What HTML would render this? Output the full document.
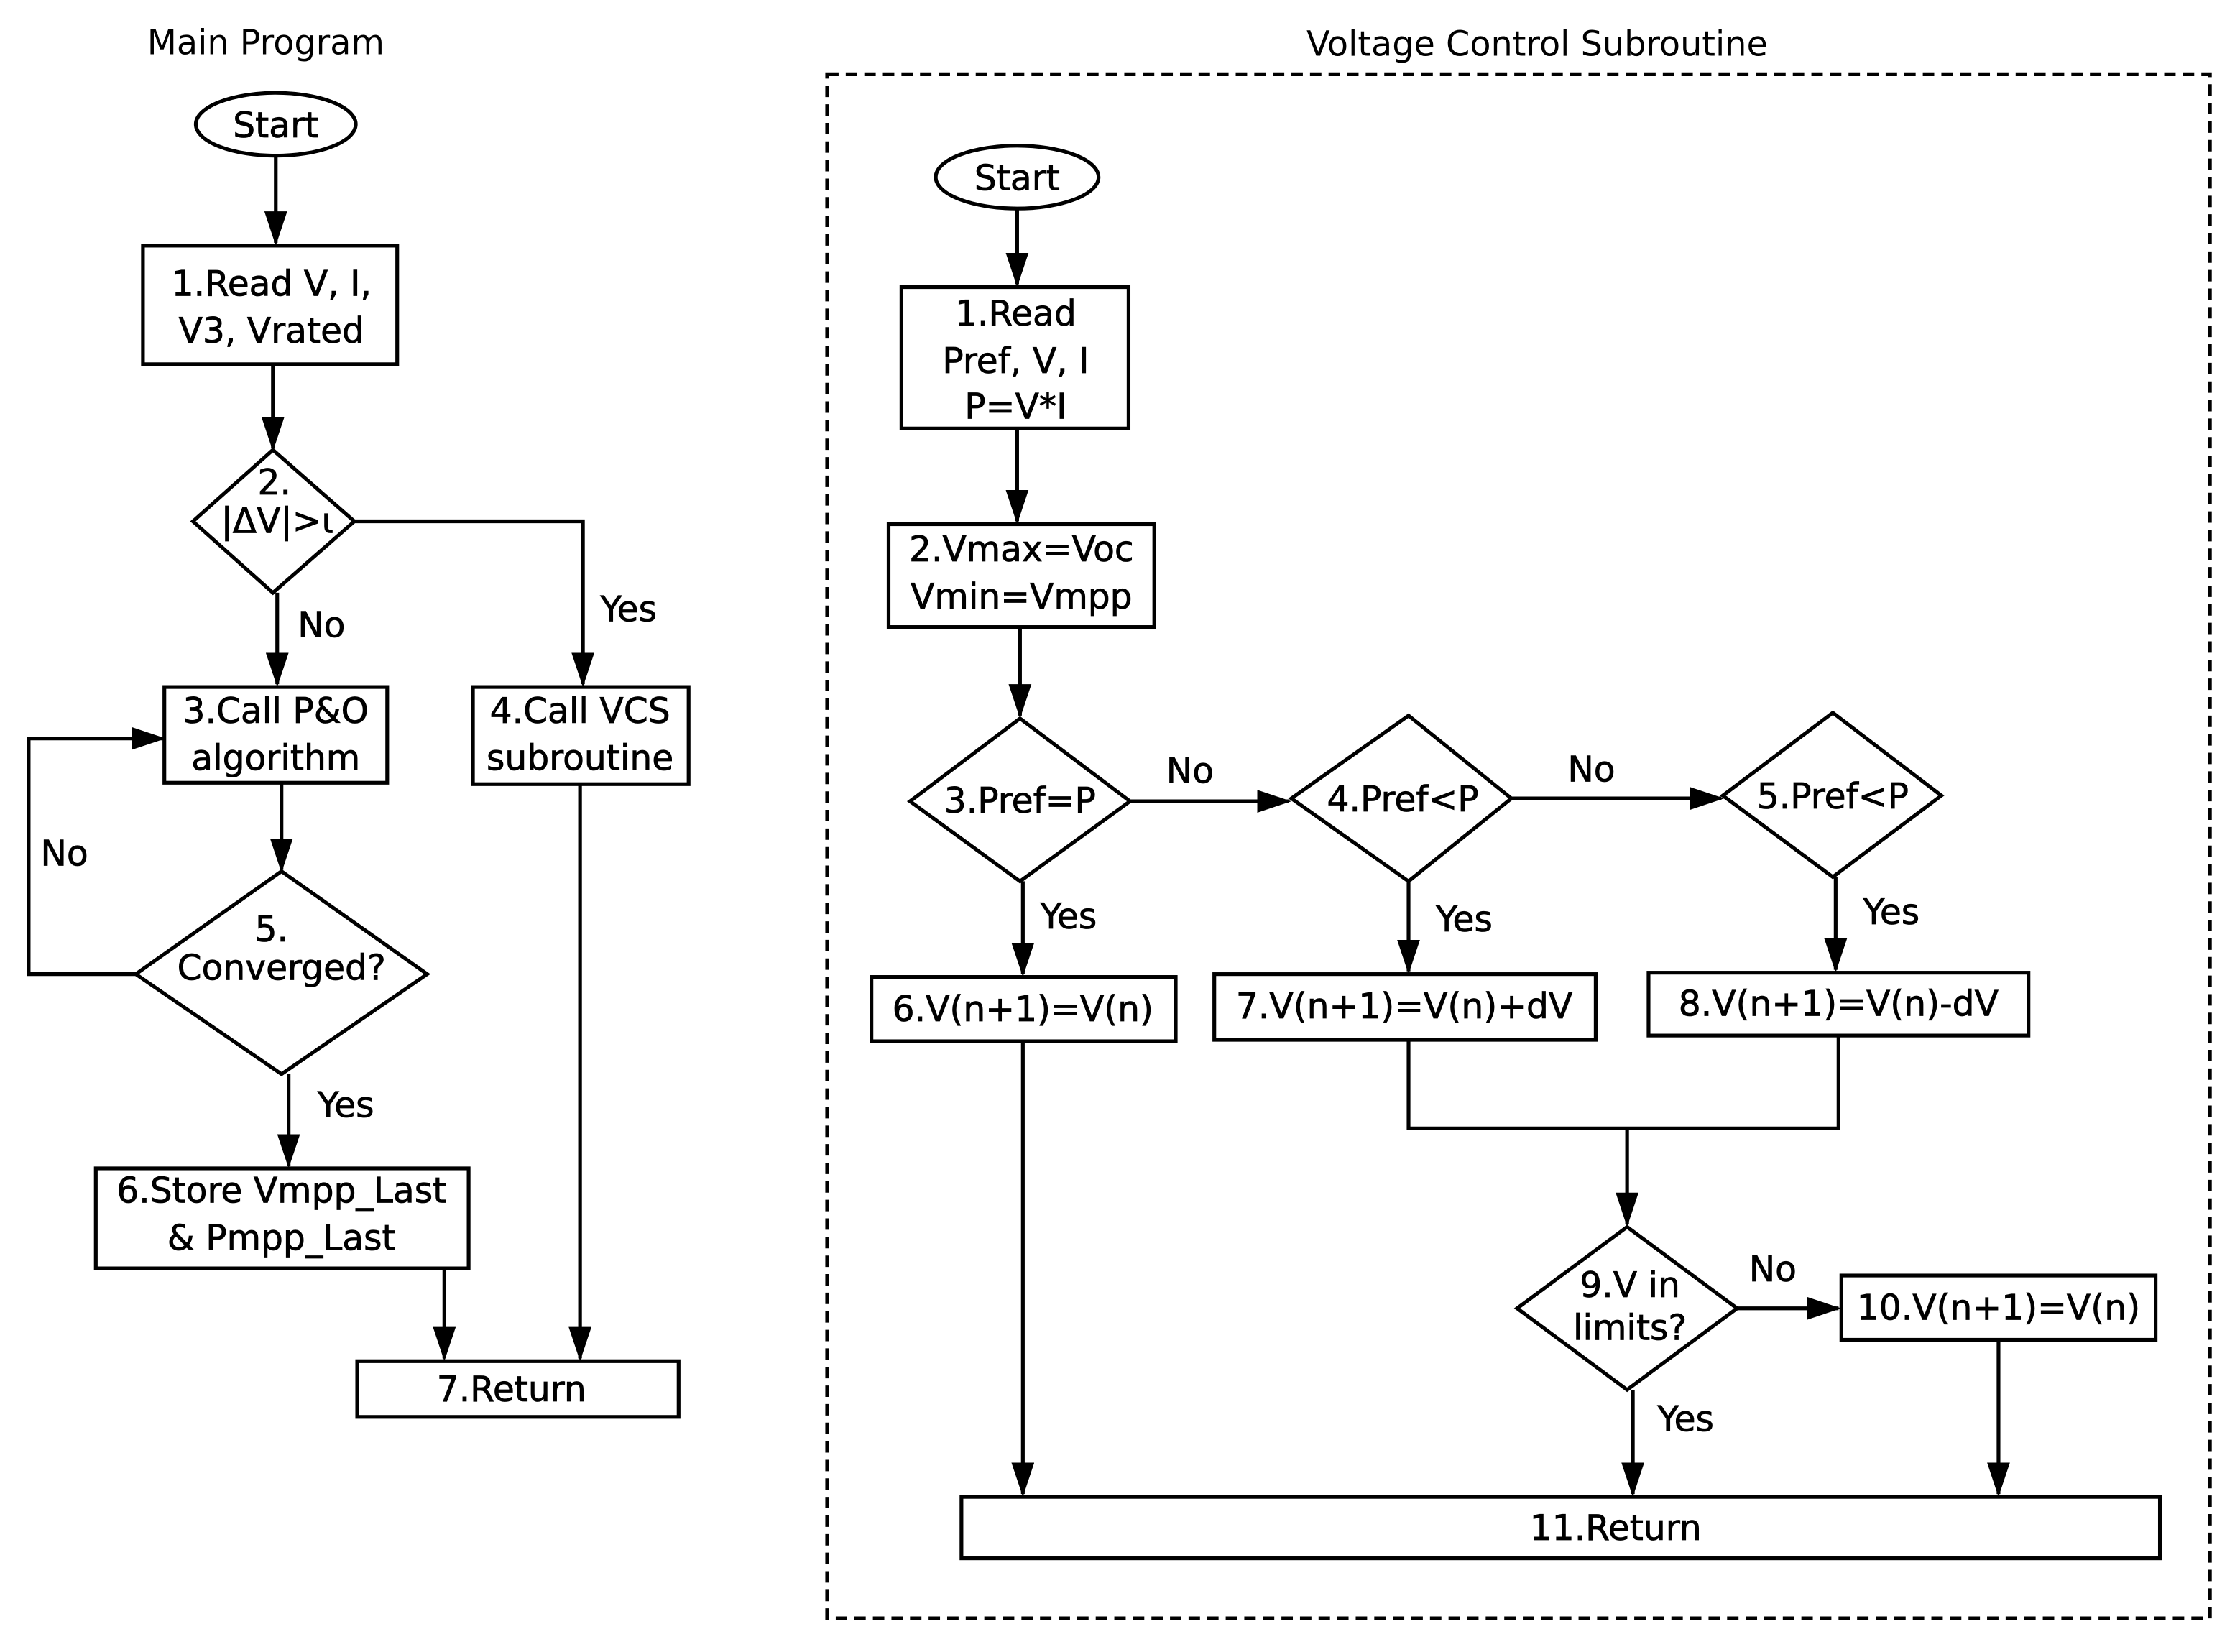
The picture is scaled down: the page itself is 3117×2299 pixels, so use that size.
<!DOCTYPE html>
<html><head><meta charset="utf-8"><style>html,body{margin:0;padding:0;background:#fff}svg{display:block}</style></head><body>
<svg xmlns="http://www.w3.org/2000/svg" width="3117" height="2299" viewBox="0 0 1568 1156.6">
<defs><marker id="a" markerWidth="24" markerHeight="16" refX="22" refY="8" orient="auto" markerUnits="userSpaceOnUse"><path d="M0,0 L24,8 L0,16 z" fill="#000"/></marker></defs>
<rect width="1568" height="1156.6" fill="#fff"/>
<g font-family="DejaVu Sans, Liberation Sans, sans-serif" font-size="24" text-anchor="middle" fill="#000">
<text x="186" y="38">Main Program</text>
<text x="1076" y="39">Voltage Control Subroutine</text>
</g>
<g stroke="#000" stroke-width="2.6" fill="none">
<rect x="579" y="52" width="968" height="1081" stroke-dasharray="8,5"/>
<ellipse cx="193" cy="87" rx="56" ry="22"/>
<line x1="193" y1="110" x2="193" y2="170" marker-end="url(#a)"/>
<rect x="100" y="172" width="178" height="83"/>
<line x1="191" y1="255" x2="191" y2="314" marker-end="url(#a)"/>
<polygon points="135,365 191,315 248,365 191,415"/>
<polyline points="248,365 408,365 408,479" marker-end="url(#a)"/>
<line x1="194" y1="415" x2="194" y2="479" marker-end="url(#a)"/>
<rect x="115" y="481" width="156" height="67"/>
<rect x="331" y="481" width="151" height="68"/>
<line x1="197" y1="548" x2="197" y2="609" marker-end="url(#a)"/>
<polygon points="95,682 197,610 299,682 197,752"/>
<polyline points="95,682 20,682 20,517 114,517" marker-end="url(#a)"/>
<line x1="202" y1="752" x2="202" y2="816" marker-end="url(#a)"/>
<rect x="67" y="818" width="261" height="70"/>
<line x1="311" y1="888" x2="311" y2="951" marker-end="url(#a)"/>
<line x1="406" y1="549" x2="406" y2="951" marker-end="url(#a)"/>
<rect x="250" y="953" width="225" height="39"/>

<ellipse cx="712" cy="124" rx="57" ry="22"/>
<line x1="712" y1="146" x2="712" y2="199" marker-end="url(#a)"/>
<rect x="631" y="201" width="159" height="99"/>
<line x1="712" y1="300" x2="712" y2="365" marker-end="url(#a)"/>
<rect x="622" y="367" width="186" height="72"/>
<line x1="714" y1="439" x2="714" y2="501" marker-end="url(#a)"/>
<polygon points="637,561 714,503 791,561 714,617"/>
<line x1="791" y1="561" x2="902" y2="561" marker-end="url(#a)"/>
<polygon points="904,559 986,501 1058,559 986,617"/>
<line x1="1058" y1="559" x2="1205" y2="559" marker-end="url(#a)"/>
<polygon points="1206,557 1283,499 1359,557 1283,614"/>
<line x1="716" y1="617" x2="716" y2="682" marker-end="url(#a)"/>
<rect x="610" y="684" width="213" height="45"/>
<line x1="986" y1="617" x2="986" y2="680" marker-end="url(#a)"/>
<rect x="850" y="682" width="267" height="46"/>
<line x1="1285" y1="614" x2="1285" y2="679" marker-end="url(#a)"/>
<rect x="1154" y="681" width="266" height="44"/>
<polyline points="986,728 986,790 1287,790 1287,725"/>
<line x1="1139" y1="790" x2="1139" y2="857" marker-end="url(#a)"/>
<polygon points="1062,916 1139,859 1216,916 1139,973"/>
<line x1="1216" y1="916" x2="1287" y2="916" marker-end="url(#a)"/>
<rect x="1289" y="893" width="220" height="45"/>
<line x1="1399" y1="938" x2="1399" y2="1046" marker-end="url(#a)"/>
<line x1="1143" y1="973" x2="1143" y2="1046" marker-end="url(#a)"/>
<line x1="716" y1="729" x2="716" y2="1046" marker-end="url(#a)"/>
<rect x="673" y="1048" width="839" height="43"/>
</g>
<g font-family="DejaVu Sans, Liberation Sans, sans-serif" font-size="24.5" text-anchor="middle" fill="#000" stroke="#000" stroke-width="0.4">
<text x="193" y="96">Start</text>
<text x="190" y="207">1.Read V, I,</text>
<text x="190" y="240">V3, Vrated</text>
<text x="192" y="346">2.</text>
<text x="194" y="373">|ΔV|&gt;ɩ</text>
<text x="440" y="435">Yes</text>
<text x="225" y="446">No</text>
<text x="193" y="506">3.Call P&amp;O</text>
<text x="193" y="539">algorithm</text>
<text x="406" y="506">4.Call VCS</text>
<text x="406" y="539">subroutine</text>
<text x="190" y="659">5.</text>
<text x="197" y="686">Converged?</text>
<text x="45" y="606">No</text>
<text x="242" y="782">Yes</text>
<text x="197" y="842">6.Store Vmpp_Last</text>
<text x="197" y="875">&amp; Pmpp_Last</text>
<text x="358" y="981">7.Return</text>

<text x="712" y="133">Start</text>
<text x="711" y="228">1.Read</text>
<text x="711" y="261">Pref, V, I</text>
<text x="711" y="293">P=V*I</text>
<text x="715" y="393">2.Vmax=Voc</text>
<text x="715" y="426">Vmin=Vmpp</text>
<text x="714" y="569">3.Pref=P</text>
<text x="833" y="548">No</text>
<text x="982" y="568">4.Pref&lt;P</text>
<text x="1114" y="547">No</text>
<text x="1283" y="566">5.Pref&lt;P</text>
<text x="748" y="650">Yes</text>
<text x="1025" y="652">Yes</text>
<text x="1324" y="647">Yes</text>
<text x="716" y="715">6.V(n+1)=V(n)</text>
<text x="983" y="713">7.V(n+1)=V(n)+dV</text>
<text x="1287" y="711">8.V(n+1)=V(n)-dV</text>
<text x="1141" y="908">9.V in</text>
<text x="1141" y="938">limits?</text>
<text x="1241" y="897">No</text>
<text x="1399" y="924">10.V(n+1)=V(n)</text>
<text x="1180" y="1002">Yes</text>
<text x="1131" y="1078">11.Return</text>
</g>
</svg>
</body></html>
